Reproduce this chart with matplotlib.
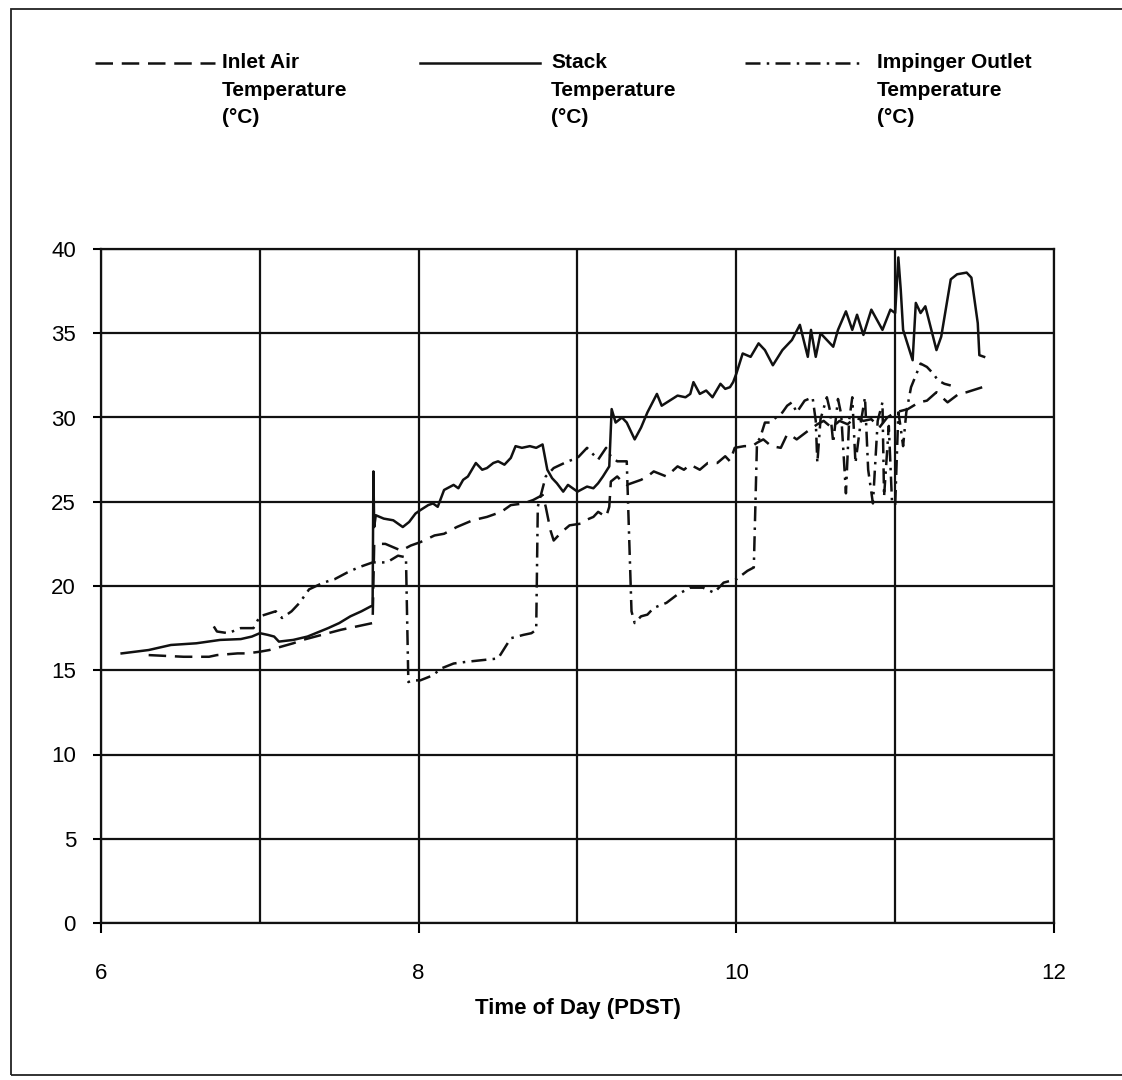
import matplotlib
matplotlib.use('Agg')
import matplotlib.pyplot as plt
from matplotlib.lines import Line2D
from matplotlib.patches import Rectangle

plt.rcParams['font.family'] = ['Liberation Sans', 'DejaVu Sans']

# ── Temperature records (time of day in hours, °C) ────────────────────────────
stack_time = [6.13, 6.30, 6.44, 6.60, 6.75, 6.88, 6.95, 7.00, 7.05, 7.09, 7.12,
              7.21, 7.30, 7.43, 7.50, 7.57, 7.64, 7.70, 7.71, 7.715, 7.72, 7.73,
              7.78, 7.84, 7.90, 7.94, 7.98, 8.01, 8.06, 8.09, 8.12, 8.16, 8.22,
              8.25, 8.28, 8.31, 8.36, 8.40, 8.43, 8.47, 8.50, 8.54, 8.58, 8.61,
              8.65, 8.70, 8.74, 8.78, 8.81, 8.84, 8.87, 8.91, 8.94, 8.97, 9.00,
              9.06, 9.10, 9.13, 9.16, 9.20, 9.215, 9.24, 9.28, 9.31, 9.36, 9.40,
              9.44, 9.50, 9.53, 9.58, 9.63, 9.68, 9.71, 9.73, 9.77, 9.81, 9.85,
              9.90, 9.93, 9.96, 9.98, 10.00, 10.04, 10.09, 10.14, 10.18, 10.23,
              10.29, 10.35, 10.40, 10.45, 10.47, 10.50, 10.53, 10.57, 10.61,
              10.64, 10.69, 10.73, 10.76, 10.80, 10.85, 10.92, 10.97, 11.00,
              11.02, 11.035, 11.05, 11.11, 11.13, 11.16, 11.19, 11.26, 11.29,
              11.35, 11.39, 11.45, 11.48, 11.52, 11.53, 11.56]
stack_temp = [16.0, 16.2, 16.5, 16.6, 16.8, 16.85, 17.0, 17.2, 17.1, 17.0, 16.7,
              16.8, 17.0, 17.5, 17.8, 18.2, 18.5, 18.8, 18.8, 26.8, 23.5, 24.2,
              24.0, 23.9, 23.5, 23.8, 24.3, 24.5, 24.8, 24.9, 24.7, 25.7, 26.0,
              25.8, 26.3, 26.5, 27.3, 26.9, 27.0, 27.3, 27.4, 27.2, 27.6, 28.3,
              28.2, 28.3, 28.2, 28.4, 26.9, 26.4, 26.1, 25.6, 26.0, 25.8, 25.6,
              25.9, 25.8, 26.1, 26.5, 27.1, 30.5, 29.7, 30.0, 29.7, 28.7, 29.4,
              30.3, 31.4, 30.7, 31.0, 31.3, 31.2, 31.4, 32.1, 31.4, 31.6, 31.2,
              32.0, 31.7, 31.8, 32.1, 32.6, 33.8, 33.6, 34.4, 34.0, 33.1,
              34.0, 34.6, 35.5, 33.6, 35.2, 33.6, 35.0, 34.6, 34.2,
              35.2, 36.3, 35.2, 36.1, 34.9, 36.4, 35.2, 36.4, 36.2,
              39.5, 37.6, 35.2, 33.4, 36.8, 36.2, 36.6, 34.0, 34.8,
              38.2, 38.5, 38.6, 38.3, 35.6, 33.7, 33.6]

inlet_time = [6.30, 6.52, 6.68, 6.73, 6.86, 6.92, 7.00, 7.06, 7.21, 7.27, 7.43,
              7.51, 7.66, 7.71, 7.72, 7.79, 7.84, 7.89, 7.95, 8.01, 8.10, 8.16,
              8.24, 8.34, 8.43, 8.52, 8.58, 8.66, 8.72, 8.78, 8.80, 8.83, 8.85,
              8.90, 8.95, 9.02, 9.05, 9.10, 9.13, 9.18, 9.20, 9.21, 9.25, 9.28,
              9.31, 9.40, 9.44, 9.48, 9.56, 9.63, 9.67, 9.71, 9.77, 9.82, 9.88,
              9.93, 9.96, 9.99, 10.05, 10.10, 10.13, 10.17, 10.22, 10.28, 10.32,
              10.35, 10.38, 10.45, 10.51, 10.55, 10.60, 10.65, 10.70, 10.75,
              10.80, 10.85, 10.90, 10.95, 11.00, 11.08, 11.15, 11.20, 11.26,
              11.33, 11.40, 11.45, 11.55]
inlet_temp = [15.9, 15.8, 15.8, 15.9, 16.0, 16.0, 16.1, 16.2, 16.6, 16.8, 17.2,
              17.4, 17.7, 17.8, 22.5, 22.5, 22.3, 22.1, 22.4, 22.6, 23.0, 23.1,
              23.5, 23.9, 24.1, 24.4, 24.8, 24.9, 25.1, 25.4, 24.7, 23.3, 22.7,
              23.2, 23.6, 23.7, 23.9, 24.1, 24.4, 24.1, 24.7, 26.2, 26.5, 26.2,
              26.0, 26.3, 26.5, 26.8, 26.5, 27.1, 26.9, 27.2, 26.9, 27.3, 27.3,
              27.7, 27.4, 28.2, 28.3, 28.3, 28.5, 28.7, 28.3, 28.2, 29.0,
              28.9, 28.7, 29.2, 29.6, 29.8, 29.4, 29.8, 29.6, 30.0,
              29.8, 29.9, 29.4, 30.0, 30.3, 30.5, 30.9, 31.0, 31.5,
              30.9, 31.4, 31.5, 31.8]

impinger_time = [6.71, 6.73, 6.80, 6.88, 6.96, 7.00, 7.10, 7.14, 7.20, 7.25,
                 7.31, 7.40, 7.47, 7.55, 7.62, 7.71, 7.80, 7.87, 7.92, 7.935,
                 7.96, 8.01, 8.09, 8.14, 8.22, 8.30, 8.40, 8.50, 8.58, 8.66,
                 8.71, 8.74, 8.75, 8.80, 8.85, 8.94, 9.00, 9.06, 9.13, 9.18,
                 9.21, 9.25, 9.31, 9.34, 9.36, 9.40, 9.44, 9.48, 9.56, 9.63,
                 9.71, 9.79, 9.86, 9.92, 10.00, 10.07, 10.11, 10.13, 10.15,
                 10.18, 10.21, 10.29, 10.32, 10.35, 10.38, 10.43, 10.48, 10.50,
                 10.51, 10.53, 10.57, 10.59, 10.61, 10.64, 10.66, 10.69, 10.71,
                 10.73, 10.75, 10.78, 10.81, 10.83, 10.86, 10.89, 10.92, 10.93,
                 10.96, 10.98, 11.00, 11.02, 11.03, 11.05, 11.07, 11.10, 11.16,
                 11.20, 11.24, 11.27, 11.31, 11.35]
impinger_temp = [17.6, 17.3, 17.2, 17.5, 17.5, 18.2, 18.5, 18.1, 18.5, 19.0,
                 19.8, 20.2, 20.4, 20.8, 21.1, 21.4, 21.4, 21.8, 21.7, 14.3,
                 14.4, 14.4, 14.7, 15.1, 15.4, 15.5, 15.6, 15.7, 16.9, 17.1,
                 17.2, 17.4, 24.7, 26.5, 27.0, 27.4, 27.6, 28.2, 27.5, 28.2,
                 27.7, 27.4, 27.4, 18.5, 17.8, 18.2, 18.3, 18.7, 19.0, 19.5,
                 19.9, 19.9, 19.6, 20.2, 20.4, 20.9, 21.1, 28.5, 28.8,
                 29.7, 29.7, 30.3, 30.7, 30.9, 30.3, 31.0, 31.2, 29.8,
                 27.3, 29.9, 31.2, 30.4, 28.5, 31.1, 30.2, 25.5, 29.8,
                 31.2, 27.3, 29.5, 31.2, 26.9, 24.9, 29.8, 30.9, 25.3,
                 29.5, 25.0, 24.8, 30.3, 29.7, 28.3, 30.3, 31.8, 33.2,
                 33.0, 32.6, 32.2, 32.0, 31.9]

legend_labels = ['Inlet Air\nTemperature\n(°C)',
                 'Stack\nTemperature\n(°C)',
                 'Impinger Outlet\nTemperature\n(°C)']

x_ticks = [6, 8, 10, 12]
y_ticks = [0, 5, 10, 15, 20, 25, 30, 35, 40]

DASHED   = (0, (7, 3.5))
DASHDOT  = (0, (6, 2.5, 1, 2.5))

W, H = 1122, 1080
fig = plt.figure(figsize=(W / 100, H / 100), dpi=100)
ax = fig.add_axes([101 / W, 1 - 923 / H, (1054 - 101) / W, (923 - 249) / H])

# ── Series ────────────────────────────────────────────────────────────────────
ax.plot(inlet_time, inlet_temp, color='#111111', lw=1.8, linestyle=DASHED)
ax.plot(impinger_time, impinger_temp, color='#111111', lw=1.8, linestyle=DASHDOT)
ax.plot(stack_time, stack_temp, color='#111111', lw=1.8)

# ── Axes, ticks and grid ──────────────────────────────────────────────────────
ax.set_xlim(6, 12)
ax.set_ylim(0, 40)
ax.set_xticks(x_ticks)
ax.set_xticks([7, 9, 11], minor=True)
ax.set_yticks(y_ticks)
ax.tick_params(axis='x', which='major', direction='out', length=7, width=1.5,
               pad=22, labelsize=16)
ax.tick_params(axis='x', which='minor', length=0)
ax.tick_params(axis='y', direction='out', length=6, width=1.5, pad=12,
               labelsize=16)
ax.grid(True, which='both', color='#111111', lw=1.6)
ax.set_axisbelow(True)
for spine in ax.spines.values():
    spine.set_linewidth(1.6)
    spine.set_color('#111111')

ax.set_xlabel('Time of Day (PDST)', fontsize=16, fontweight='bold', labelpad=10)

# ── Legend row across the top ─────────────────────────────────────────────────
legend_styles = [DASHED, '-', DASHDOT]
sample_x = [(95, 215), (420, 540), (745, 862)]
text_x = [222, 551, 877]
row_y = [63, 90, 117]
for label, style, (x0, x1), tx in zip(legend_labels, legend_styles, sample_x, text_x):
    fig.add_artist(Line2D([x0 / W, x1 / W], [1 - row_y[0] / H] * 2,
                          transform=fig.transFigure, color='#111111', lw=1.8,
                          linestyle=style))
    for line, ry in zip(label.split('\n'), row_y):
        fig.text(tx / W, 1 - ry / H, line, fontsize=15, fontweight='bold',
                 ha='left', va='center')

# page frame
fig.add_artist(Rectangle((11 / W, 1 - 1075 / H), 1.2, (1075 - 9) / H,
                         transform=fig.transFigure, fill=False,
                         edgecolor='#222222', lw=1.3))

fig.savefig('out.png', dpi=100)
